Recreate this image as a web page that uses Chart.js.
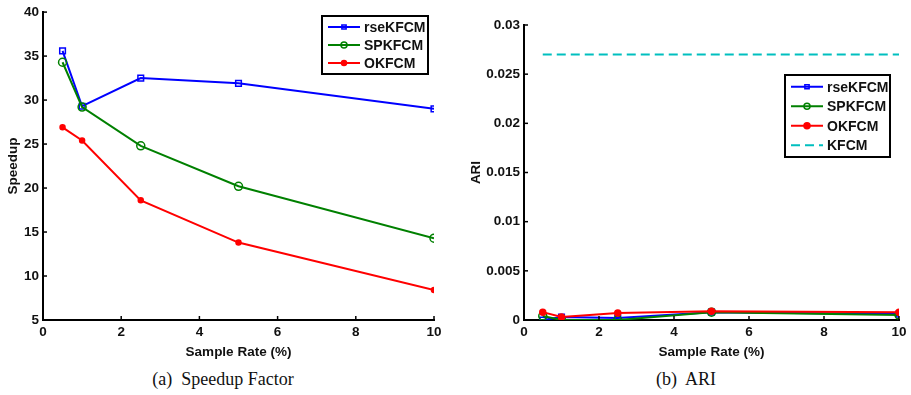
<!DOCTYPE html>
<html>
<head>
<meta charset="utf-8">
<script src="https://cdn.jsdelivr.net/npm/chart.js@4/dist/chart.umd.min.js"></script>
<style>
    body { margin: 0; background: #fff; width: 911px; height: 395px; position: relative; overflow: hidden; }
    .panel { position: absolute; top: 0; height: 360px; }
    #speedupPanel { left: 0; width: 455px; }
    #ariPanel { left: 455px; width: 456px; }
    .caption { position: absolute; top: 369px; font-family: "Liberation Serif", "Times New Roman", serif; font-size: 18px; color: #111; white-space: pre; transform: translateX(-50%); }
</style>
</head>
<body>
<div class="panel" id="speedupPanel"><canvas id="speedupChart"></canvas></div>
<div class="panel" id="ariPanel"><canvas id="ariChart"></canvas></div>
<div class="caption" style="left:223px">(a)  Speedup Factor</div>
<div class="caption" style="left:686px">(b)  ARI</div>
<script>
// sample rates (%) shared by both panels
const sampleRates = [0.5, 1, 2.5, 5, 10];
const seriesNames = ['rseKFCM', 'SPKFCM', 'OKFCM'];

// (a) speedup
const speedupRse = [35.6, 29.3, 32.5, 31.9, 29.0];
const speedupSp = [34.3, 29.2, 24.8, 20.2, 14.3];
const speedupOk = [26.9, 25.4, 18.6, 13.8, 8.4];
const speedupTicks = [5, 10, 15, 20, 25, 30, 35, 40];

// (b) ARI
const ariRse = [0.0000, 0.0003, 0.0002, 0.0008, 0.0006];
const ariSp = [0.0004, 0.0000, 0.0000, 0.0008, 0.0005];
const ariOk = [0.0008, 0.0003, 0.0007, 0.0009, 0.0008];
const ariKfcm = [0.027, 0.027, 0.027, 0.027, 0.027];
const ariTicks = [0, 0.005, 0.01, 0.015, 0.02, 0.025, 0.03];

const rateTicks = [0, 2, 4, 6, 8, 10];

const FONT = '"Liberation Sans", Arial, Helvetica, sans-serif';

function points(values) {
    return values.map((v, i) => ({ x: sampleRates[i], y: v }));
}

function series(label, values, color, style, extra) {
    const filled = !!(extra && extra.filled);
    const base = {
        label: label,
        data: points(values),
        borderColor: color,
        backgroundColor: filled ? color : 'rgba(0,0,0,0)',
        pointBorderColor: color,
        pointBackgroundColor: filled ? color : 'rgba(0,0,0,0)',
        borderWidth: 2,
        pointStyle: style,
        pointRadius: 4,
        pointBorderWidth: 1.5,
        tension: 0
    };
    return Object.assign(base, extra || {});
}

// inward tick marks, like the matlab axes
const inwardTicks = {
    id: 'inwardTicks',
    afterDraw(chart) {
        const ctx = chart.ctx;
        const xs = chart.scales.x, ys = chart.scales.y;
        ctx.save();
        ctx.strokeStyle = '#000';
        ctx.lineWidth = 1.5;
        xs.ticks.forEach(t => {
            const px = xs.getPixelForValue(t.value);
            ctx.beginPath();
            ctx.moveTo(px, ys.bottom);
            ctx.lineTo(px, ys.bottom - 4);
            ctx.stroke();
        });
        ys.ticks.forEach(t => {
            const py = ys.getPixelForValue(t.value);
            ctx.beginPath();
            ctx.moveTo(xs.left, py);
            ctx.lineTo(xs.left + 4, py);
            ctx.stroke();
        });
        ctx.restore();
    }
};

// boxed legend drawn inside the plot
const boxLegend = {
    id: 'boxLegend',
    afterDraw(chart, args, opts) {
        const ctx = chart.ctx;
        const sets = chart.data.datasets;
        const h = opts.pad * 2 + opts.rowHeight * sets.length;
        ctx.save();
        ctx.fillStyle = '#fff';
        ctx.fillRect(opts.left, opts.top, opts.width, h);
        ctx.strokeStyle = '#000';
        ctx.lineWidth = 2;
        ctx.strokeRect(opts.left, opts.top, opts.width, h);
        ctx.font = 'bold 14px ' + FONT;
        ctx.textBaseline = 'middle';
        sets.forEach((ds, i) => {
            const y = opts.top + opts.pad + opts.rowHeight * (i + 0.5);
            const x0 = opts.left + 6;
            const x1 = x0 + opts.sample;
            ctx.strokeStyle = ds.borderColor;
            ctx.lineWidth = 2;
            ctx.setLineDash(ds.borderDash || []);
            ctx.beginPath();
            ctx.moveTo(x0, y);
            ctx.lineTo(x1, y);
            ctx.stroke();
            ctx.setLineDash([]);
            if (ds.pointRadius > 0) {
                ctx.fillStyle = ds.pointBackgroundColor;
                ctx.lineWidth = 1.5;
                Chart.helpers.drawPoint(ctx, {
                    pointStyle: ds.pointStyle,
                    radius: Math.min(ds.pointRadius, 3),
                    rotation: 0,
                    borderWidth: 1.5
                }, (x0 + x1) / 2, y);
            }
            ctx.fillStyle = '#111';
            ctx.fillText(ds.label, x1 + 4, y + 1);
        });
        ctx.restore();
    }
};

function axisOptions(min, max, ticks, title, fmt, fitSize, titlePad) {
    return {
        type: 'linear',
        min: min,
        max: max,
        afterBuildTicks: scale => { scale.ticks = ticks.map(v => ({ value: v })); },
        grid: { display: false, drawTicks: false },
        border: { display: true, color: '#000', width: 2 },
        ticks: {
            color: '#111',
            font: { family: FONT, size: 13.5, weight: 'bold' },
            padding: 4,
            maxRotation: 0,
            autoSkip: false,
            callback: fmt
        },
        title: {
            display: true,
            text: title,
            color: '#111',
            font: { family: FONT, size: 13.5, weight: 'bold' },
            padding: titlePad
        },
        afterFit: scale => {
            if (scale.isHorizontal()) scale.height = fitSize;
            else scale.width = fitSize;
        }
    };
}

function makeChart(canvasId, datasets, cfg) {
    return new Chart(document.getElementById(canvasId), {
        type: 'line',
        data: { datasets: datasets },
        options: {
            responsive: true,
            maintainAspectRatio: false,
            animation: false,
            layout: { padding: cfg.padding },
            scales: {
                x: axisOptions(0, 10, rateTicks, 'Sample Rate (%)', v => String(v), cfg.xFit, { top: 2, bottom: 0 }),
                y: axisOptions(cfg.yMin, cfg.yMax, cfg.yTicks, cfg.yTitle, cfg.yFmt, cfg.yFit, { top: cfg.yTitlePad, bottom: 0 })
            },
            plugins: {
                legend: { display: false },
                tooltip: { enabled: false },
                boxLegend: cfg.legend
            }
        },
        plugins: [inwardTicks, boxLegend]
    });
}

makeChart('speedupChart', [
    series(seriesNames[0], speedupRse, '#0000ff', 'rect', { order: 3 }),
    series(seriesNames[1], speedupSp, '#008000', 'circle', { order: 2 }),
    series(seriesNames[2], speedupOk, '#ff0000', 'circle', { filled: true, pointRadius: 2.5, order: 1 })
], {
    padding: { left: 0, right: 21, top: 12, bottom: 0 },
    xFit: 40,
    yFit: 43,
    yTitlePad: 5,
    yMin: 5, yMax: 40, yTicks: speedupTicks,
    yTitle: 'Speedup',
    yFmt: v => String(v),
    legend: { left: 322, top: 16, width: 106, rowHeight: 18, pad: 2, sample: 32 }
});

makeChart('ariChart', [
    series(seriesNames[0], ariRse, '#0000ff', 'rect', { order: 4 }),
    series(seriesNames[1], ariSp, '#008000', 'circle', { order: 3 }),
    series(seriesNames[2], ariOk, '#ff0000', 'circle', { filled: true, pointRadius: 3, order: 2 }),
    series('KFCM', ariKfcm, '#00bfbf', 'circle', { pointRadius: 0, borderDash: [9, 5], order: 1 })
], {
    padding: { left: 0, right: 12, top: 25, bottom: 0 },
    xFit: 40,
    yFit: 69,
    yTitlePad: 13,
    yMin: 0, yMax: 0.03, yTicks: ariTicks,
    yTitle: 'ARI',
    yFmt: v => String(Math.round(v * 1000) / 1000),
    legend: { left: 330, top: 75, width: 105, rowHeight: 19.5, pad: 2, sample: 32 }
});
</script>
</body>
</html>
